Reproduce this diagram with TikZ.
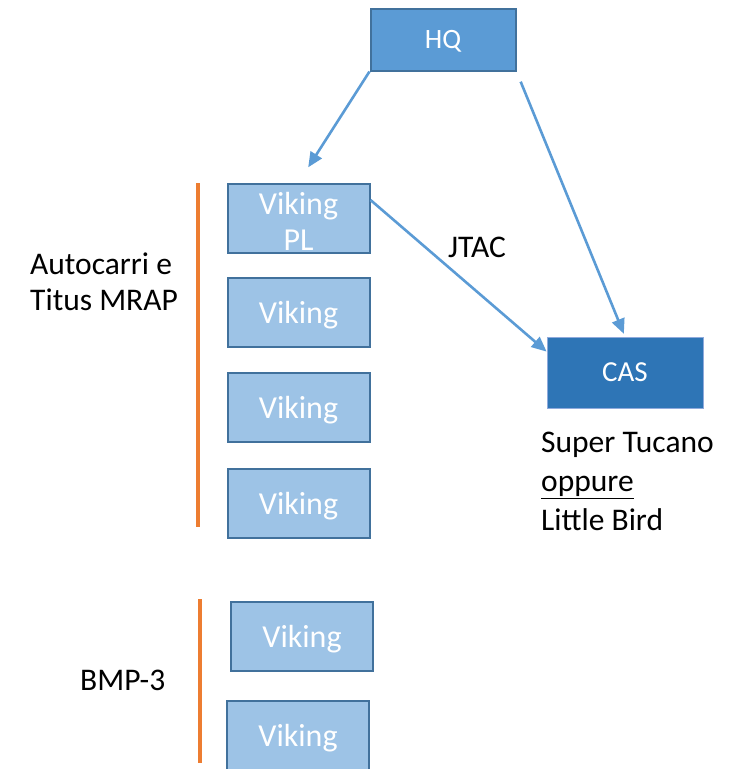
\documentclass[tikz,border=0pt]{standalone}
\usepackage{fontspec}
\setmainfont{Carlito}
\usepackage{tikz}
\usetikzlibrary{arrows.meta,positioning}

\definecolor{hqblue}{HTML}{5B9BD5}
\definecolor{edgeblue}{HTML}{41719C}
\definecolor{lightblue}{HTML}{9DC3E6}
\definecolor{casblue}{HTML}{2E75B6}
\definecolor{casedge}{HTML}{8FAADC}
\definecolor{lineorange}{HTML}{ED7D31}

\begin{document}
\begin{tikzpicture}[x=1pt,y=-1pt,
  unit/.style={draw=edgeblue,line width=2pt,fill=lightblue,text=white,
    minimum width=142pt,minimum height=69pt,inner sep=0pt,align=center,
    text depth=-2pt,font=\fontsize{32}{36}\selectfont},
  link/.style={draw=hqblue,line width=2.6pt,-{Triangle[length=15pt,width=13pt]}},
  side/.style={lineorange,line width=3.5pt},
  lbl/.style={inner sep=0pt,align=left,font=\fontsize{31.5}{36}\selectfont}]
\useasboundingbox (0,0) rectangle (738,769);

% Comando
\node[unit,fill=hqblue,minimum width=145pt,minimum height=62pt,
  font=\fontsize{28}{32}\selectfont] (hq) at (443,39.5) {HQ};

% Plotone
\node[unit] (vikpl) at (298.5,218) {\rule{0pt}{29pt}Viking\\PL};
\node[unit] (vik2) at (298.5,312) {Viking};
\node[unit] (vik3) at (298.5,407) {Viking};
\node[unit] (vik4) at (298.5,503) {Viking};
\node[unit] (vik5) at (302,636) {Viking};
\node[unit] (vik6) at (298,735) {Viking};

% Supporto aereo
\node[unit,draw=casedge,line width=0.8pt,fill=casblue,minimum width=156pt,
  minimum height=71pt,font=\fontsize{29}{34}\selectfont] (cas) at (625,372.5) {CAS};

% Collegamenti
\draw[link,shorten >=18pt] (hq.south west) -- (vikpl.north);
\draw[link,shorten <=11pt,shorten >=3pt] (hq.south east) -- (cas.north);
\draw[link] ([yshift=18pt]vikpl.east) -- ([yshift=-15pt]cas.north west);
\node[lbl] (jtac) at (477,247) {JTAC};

% Gruppi
\draw[side] (198,183) -- (198,527);
\draw[side] (200,599) -- (200,763);
\node[lbl,anchor=west] (mrap) at (30,282) {Autocarri e\\Titus MRAP};
\node[lbl,anchor=west] (bmp) at (80,680) {BMP-3};
\node[lbl,anchor=north west,font=\fontsize{31.5}{39}\selectfont] (air) at (541,432)
  {Super Tucano\\\underline{oppure}\\Little Bird};
\end{tikzpicture}
\end{document}
